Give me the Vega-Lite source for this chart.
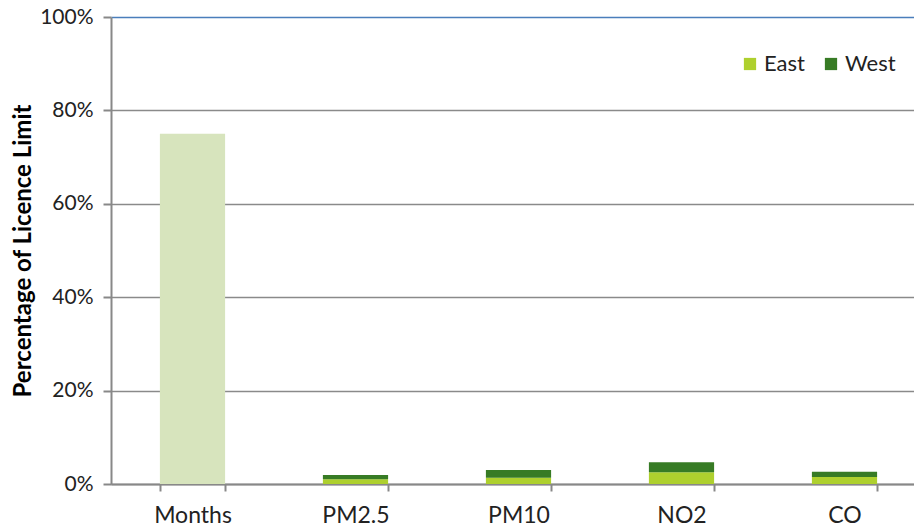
{
  "$schema": "https://vega.github.io/schema/vega-lite/v6.json",
  "autosize": {"type": "none"},
  "width": 803,
  "height": 467,
  "padding": {"left": 111, "top": 17, "right": 0, "bottom": 45},
  "background": "white",
  "config": {
    "font": "Lato",
    "view": {"stroke": null}
  },
  "data": {
    "values": [
      {"category": "Months", "series": "Months", "value": 0.75},
      {"category": "PM2.5", "series": "East", "value": 0.010},
      {"category": "PM2.5", "series": "West", "value": 0.0093},
      {"category": "PM10", "series": "East", "value": 0.0135},
      {"category": "PM10", "series": "West", "value": 0.0165},
      {"category": "NO2", "series": "East", "value": 0.025},
      {"category": "NO2", "series": "West", "value": 0.0215},
      {"category": "CO", "series": "East", "value": 0.015},
      {"category": "CO", "series": "West", "value": 0.011}
    ]
  },
  "mark": {"type": "bar"},
  "encoding": {
    "x": {
      "field": "category",
      "type": "nominal",
      "sort": ["Months", "PM2.5", "PM10", "NO2", "CO"],
      "scale": {"paddingInner": 0.6, "paddingOuter": 0.3, "range": [0, 815]},
      "axis": {
        "title": null,
        "labelAngle": 0,
        "tickBand": "extent",
        "labelFontSize": 23,
        "labelColor": "#222222",
        "labelPadding": 13,
        "tickSize": 7,
        "tickColor": "#888888",
        "tickWidth": 2,
        "domainColor": "#888888",
        "domainWidth": 2,
        "grid": false
      }
    },
    "y": {
      "field": "value",
      "type": "quantitative",
      "stack": "zero",
      "scale": {"domain": [0, 1]},
      "axis": {
        "title": "Percentage of Licence Limit",
        "titleFontSize": 24,
        "titleFontWeight": "bold",
        "titleColor": "#000000",
        "titlePadding": 4,
        "format": ".0%",
        "values": [0, 0.2, 0.4, 0.6, 0.8, 1],
        "labelFontSize": 21,
        "labelColor": "#222222",
        "labelPadding": 10,
        "tickSize": 8,
        "tickColor": "#888888",
        "tickWidth": 2,
        "domainColor": "#888888",
        "domainWidth": 2,
        "grid": true,
        "gridColor": {"condition": {"test": "datum.value === 1", "value": "#4a7ebb"}, "value": "#8a8a8a"},
        "gridWidth": 1.5
      }
    },
    "color": {
      "field": "series",
      "type": "nominal",
      "scale": {"domain": ["East", "West", "Months"], "range": ["#aed02e", "#377b25", "#d7e4bd"]},
      "legend": {
        "values": ["East", "West"],
        "title": null,
        "orient": "none",
        "legendX": 628,
        "legendY": 36,
        "direction": "horizontal",
        "symbolType": "square",
        "symbolSize": 150,
        "symbolStrokeWidth": 0,
        "labelOffset": 3,
        "labelFontSize": 22,
        "labelColor": "#222222",
        "columnPadding": 15
      }
    },
    "order": {"field": "series", "sort": "ascending"}
  }
}
